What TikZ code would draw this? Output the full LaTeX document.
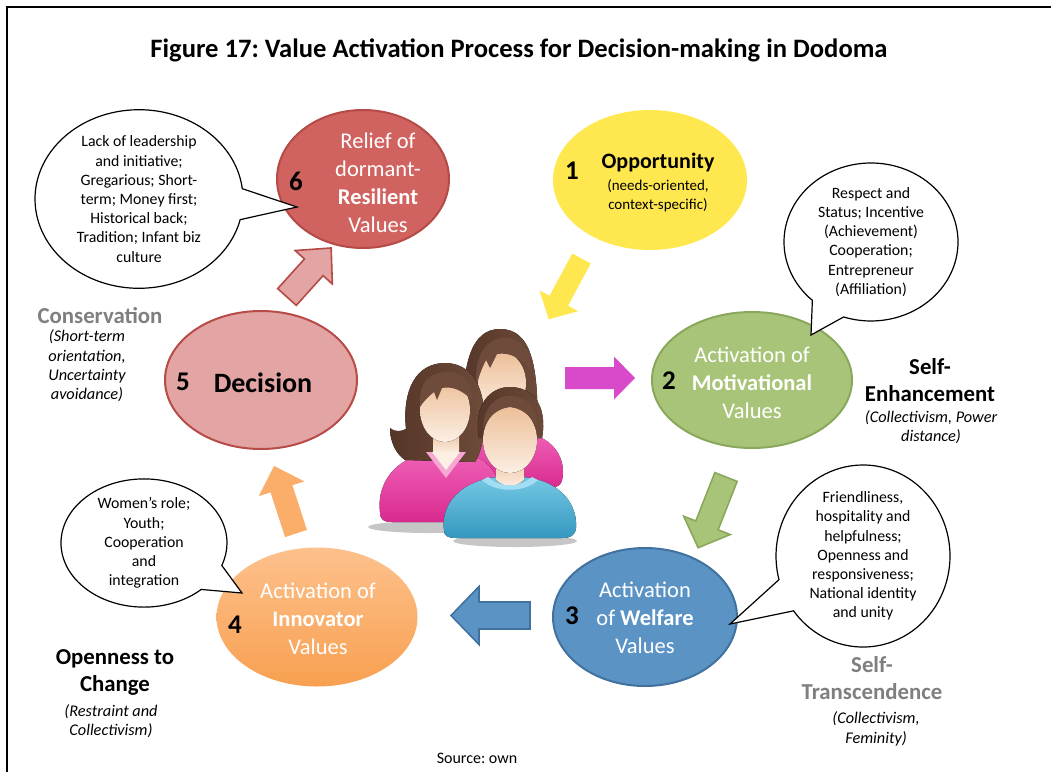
\documentclass[tikz,border=0pt]{standalone}
\usepackage{fontspec}
\setmainfont{Carlito}
\usetikzlibrary{shapes.geometric,shapes.callouts}
\frenchspacing

\definecolor{relieffill}{HTML}{D0625F}
\definecolor{reliefdraw}{HTML}{B54A47}
\definecolor{decfill}{HTML}{E3A5A4}
\definecolor{decdraw}{HTML}{B84B48}
\definecolor{oppfill}{HTML}{FFE84F}
\definecolor{motfill}{HTML}{A8C478}
\definecolor{motdraw}{HTML}{8AA85B}
\definecolor{welfill}{HTML}{5B93C5}
\definecolor{weldraw}{HTML}{41729F}
\definecolor{innotop}{HTML}{FDC18D}
\definecolor{innobot}{HTML}{F8A050}
\definecolor{innoarrow}{HTML}{FBAE6A}
\definecolor{magarrow}{HTML}{D94ACB}
\definecolor{greytext}{HTML}{7F7F7F}
\definecolor{hair}{HTML}{6E4B3A}
\definecolor{hairdark}{HTML}{553628}
\definecolor{skintop}{HTML}{EDBF98}
\definecolor{skinbot}{HTML}{FCEFE4}
\definecolor{pinktop}{HTML}{F062B8}
\definecolor{pinkbot}{HTML}{D92A8F}
\definecolor{pinklight}{HTML}{F7A8D2}
\definecolor{bluetop}{HTML}{74C8E4}
\definecolor{bluebot}{HTML}{3597BF}
\definecolor{bluelight}{HTML}{A4DEF5}

\tikzset{
  pics/blockarrow/.style n args={4}{code={
    \path[pic actions] (0,-#2) -- (#1-#4,-#2) -- (#1-#4,-#3) -- (#1,0)
      -- (#1-#4,#3) -- (#1-#4,#2) -- (0,#2) -- cycle;
  }},
  stage/.style={ellipse, inner sep=0pt},
  intext/.style={text=white, align=center, font=\fontsize{22.5}{28}\selectfont},
  num/.style={font=\fontsize{27}{30}\selectfont\bfseries},
  bubble/.style={ellipse callout, draw=black, fill=white, line width=1.2pt,
    inner sep=0pt, align=center, font=\fontsize{15.8}{19.2}\selectfont},
  cat/.style={align=center, font=\fontsize{22.8}{27}\selectfont\bfseries},
  catsub/.style={align=center, font=\fontsize{16.3}{19.3}\selectfont\itshape},
  skin/.style={top color=skintop, bottom color=skinbot},
}

\begin{document}
\begin{tikzpicture}[x=1pt,y=-1pt]
\useasboundingbox (0,0) rectangle (1051,771);
\fill[white] (0,0) rectangle (1051,771);
\draw[line width=2.6pt] (7,772) -- (7,7) -- (1052,7);

% title
\node[font=\fontsize{26.6}{30}\selectfont\bfseries] (title) at (519,50)
  {Figure 17: Value Activation Process for Decision-making in Dodoma};

% ---------- the six stages ----------
\node[stage, fill=relieffill, draw=reliefdraw, line width=2pt,
  minimum width=172pt, minimum height=138pt] (relief) at (363,179) {};
\node[stage, fill=oppfill, minimum width=194pt, minimum height=140pt] (opp) at (650,180) {};
\node[stage, fill=motfill, draw=motdraw, line width=2pt,
  minimum width=200pt, minimum height=136pt] (mot) at (752,380) {};
\node[stage, fill=welfill, draw=weldraw, line width=2pt,
  minimum width=184pt, minimum height=138pt] (wel) at (645,617) {};
\node[stage, top color=innotop, bottom color=innobot,
  minimum width=201pt, minimum height=139pt] (inno) at (317,617) {};
\node[stage, fill=decfill, draw=decdraw, line width=2pt,
  minimum width=192pt, minimum height=138pt] (dec) at (261,380) {};

% stage texts
\node[intext] (relieftext) at (378,183) {Relief of\\dormant-\\\textbf{Resilient}\\Values};
\node[num] (n6) at (296,181) {6};
\node[font=\fontsize{22}{26}\selectfont\bfseries] (opptext) at (658,163) {Opportunity};
\node[align=center, font=\fontsize{15}{19}\selectfont] (oppsub) at (658,196)
  {(needs-oriented,\\context-specific)};
\node[num] (n1) at (572,171) {1};
\node[intext] (mottext) at (752,383) {Activation of\\\textbf{Motivational}\\Values};
\node[num] (n2) at (669,381) {2};
\node[intext] (weltext) at (645,618) {Activation\\of \textbf{Welfare}\\Values};
\node[num] (n3) at (572,616) {3};
\node[intext] (innotext) at (318,619) {Activation of\\\textbf{Innovator}\\Values};
\node[num] (n4) at (235,625) {4};
\node[font=\fontsize{28}{32}\selectfont\bfseries] (dectext) at (263,383) {Decision};
\node[num] (n5) at (183,382) {5};

% ---------- block arrows between stages ----------
\pic[fill=decfill, draw=reliefdraw, line width=1.6pt, rotate=48] (a56) at (287,297)
  {blockarrow={66}{12.5}{25}{26}};
\pic[fill=oppfill, rotate=241.7] (a1c) at (581.5,258.5)
  {blockarrow={69}{10.5}{22}{21}};
\pic[fill=magarrow] (ac2) at (565,378)
  {blockarrow={70}{11}{21.5}{21}};
\pic[fill=motfill, draw=motdraw, line width=1.6pt, rotate=248.5] (a23) at (726,477)
  {blockarrow={76}{12}{25}{24}};
\pic[fill=welfill, draw=weldraw, line width=1.6pt, rotate=180] (a34) at (530,615.5)
  {blockarrow={79}{13.5}{29}{28}};
\pic[fill=innoarrow, rotate=108] (a45) at (296,533.5)
  {blockarrow={71}{11.5}{24}{24}};

% ---------- group of people in the centre ----------
% back woman
\fill[top color=pinktop, bottom color=pinkbot] (470,488) -- (470,465)
  .. controls (472,440) and (495,432) .. (515,432)
  .. controls (545,432) and (563,450) .. (563,472)
  .. controls (563,485) and (558,488) .. (550,488) -- cycle;
\fill[left color=hairdark, right color=hair] (464,432)
  .. controls (460,362) and (472,329) .. (500,329)
  .. controls (530,329) and (540,362) .. (537,440) -- (505,440) -- cycle;
\fill[skin] (502,383) ellipse [x radius=24, y radius=31];
\fill[hair] (476,388) .. controls (474,352) and (488,338) .. (505,338)
  .. controls (522,338) and (531,352) .. (531,372)
  .. controls (522,358) and (510,352) .. (497,354) -- (490,368) -- (486,360)
  .. controls (482,368) and (478,378) .. (476,388) -- cycle;

% front woman
\fill[gray!45] (430,527) ellipse [x radius=62, y radius=6];
\fill[top color=pinktop, bottom color=pinkbot] (380,512)
  .. controls (376,478) and (402,454) .. (435,452) -- (455,452)
  .. controls (485,454) and (500,472) .. (500,495) -- (500,512)
  .. controls (500,520) and (495,522) .. (488,522) -- (392,522)
  .. controls (384,522) and (380,520) .. (380,512) -- cycle;
\fill[left color=hairdark, right color=hair] (405,460)
  .. controls (396,454) and (390,442) .. (390,428)
  .. controls (396,433) and (402,431) .. (406,429)
  .. controls (402,390) and (416,363) .. (445,363)
  .. controls (472,363) and (486,388) .. (484,425)
  .. controls (484,440) and (480,455) .. (475,462) -- cycle;
\fill[skin] (433,430) rectangle (459,454);
\fill[skin] (445,410) ellipse [x radius=25, y radius=32];
\fill[pinklight] (426,452) -- (446,478) -- (466,452) -- cycle;
\fill[skinbot] (432,452) -- (446,470) -- (460,452) -- cycle;
\fill[hair] (420,407) .. controls (418,382) and (430,372) .. (448,372)
  .. controls (465,372) and (473,385) .. (472,400)
  .. controls (462,390) and (452,386) .. (442,388) -- (437,400) -- (434,392)
  .. controls (428,397) and (423,402) .. (420,407) -- cycle;

% man in front
\fill[gray!45] (515,541) ellipse [x radius=62, y radius=6];
\fill[top color=bluetop, bottom color=bluebot] (444,530)
  .. controls (440,498) and (470,478) .. (500,477) -- (520,477)
  .. controls (552,478) and (578,498) .. (576,528)
  .. controls (575,536) and (570,538) .. (562,538) -- (456,538)
  .. controls (448,538) and (444,536) .. (444,530) -- cycle;
\fill[skin] (496,455) -- (496,480) .. controls (505,488) and (515,488) .. (524,480)
  -- (524,455) -- cycle;
\fill[bluelight] (482,480) .. controls (495,493) and (525,493) .. (538,480)
  -- (532,477) .. controls (520,488) and (500,488) .. (488,477) -- cycle;
\fill[left color=hairdark, right color=hair] (479,438)
  .. controls (473,405) and (490,387) .. (510,387)
  .. controls (532,387) and (548,405) .. (542,438) -- cycle;
\fill[skin] (510,440) ellipse [x radius=27, y radius=33];
\fill[hair] (483,428) .. controls (484,406) and (496,396) .. (510,396)
  .. controls (526,396) and (537,406) .. (538,428)
  .. controls (530,414) and (520,408) .. (510,407)
  .. controls (500,408) and (490,414) .. (483,428) -- cycle;

% ---------- speech bubbles ----------
\coordinate (tipA) at (297,207);
\coordinate (tipB) at (811,335);
\coordinate (tipC) at (730,624);
\coordinate (tipD) at (242,593);
\node[bubble, minimum width=208pt, minimum height=156pt,
  callout absolute pointer={(tipA)}, callout pointer arc=20] (bubA) at (139,199)
  {Lack of leadership\\and initiative;\\Gregarious; Short-\\term; Money first;\\Historical back;\\Tradition; Infant biz\\culture};
\node[bubble, minimum width=174pt, minimum height=158pt,
  callout absolute pointer={(tipB)}, callout pointer arc=24] (bubB) at (871,242)
  {Respect and\\Status; Incentive\\(Achievement)\\Cooperation;\\Entrepreneur\\(Affiliation)};
\node[bubble, minimum width=174pt, minimum height=158pt,
  callout absolute pointer={(tipC)}, callout pointer arc=22] (bubC) at (863,556)
  {Friendliness,\\hospitality and\\helpfulness;\\Openness and\\responsiveness;\\National identity\\and unity};
\node[bubble, minimum width=166pt, minimum height=114pt,
  callout absolute pointer={(tipD)}, callout pointer arc=26] (bubD) at (144,543)
  {Women’s role;\\Youth;\\Cooperation\\and\\integration};

% ---------- value dimensions ----------
\node[cat, text=greytext] (cons) at (100,316) {Conservation};
\node[catsub] (conssub) at (87,366) {(Short-term\\orientation,\\Uncertainty\\avoidance)};
\node[cat] (enh) at (930,380) {Self-\\Enhancement};
\node[catsub] (enhsub) at (931,427) {(Collectivism, Power\\distance)};
\node[cat] (open) at (115,672) {Openness to\\Change};
\node[catsub] (opensub) at (111,721) {(Restraint and\\Collectivism)};
\node[cat, text=greytext] (trans) at (872,678) {Self-\\Transcendence};
\node[catsub] (transsub) at (876,729) {(Collectivism,\\Feminity)};

\node[font=\fontsize{16}{18}\selectfont] (src) at (477,758) {Source: own};
\end{tikzpicture}
\end{document}
